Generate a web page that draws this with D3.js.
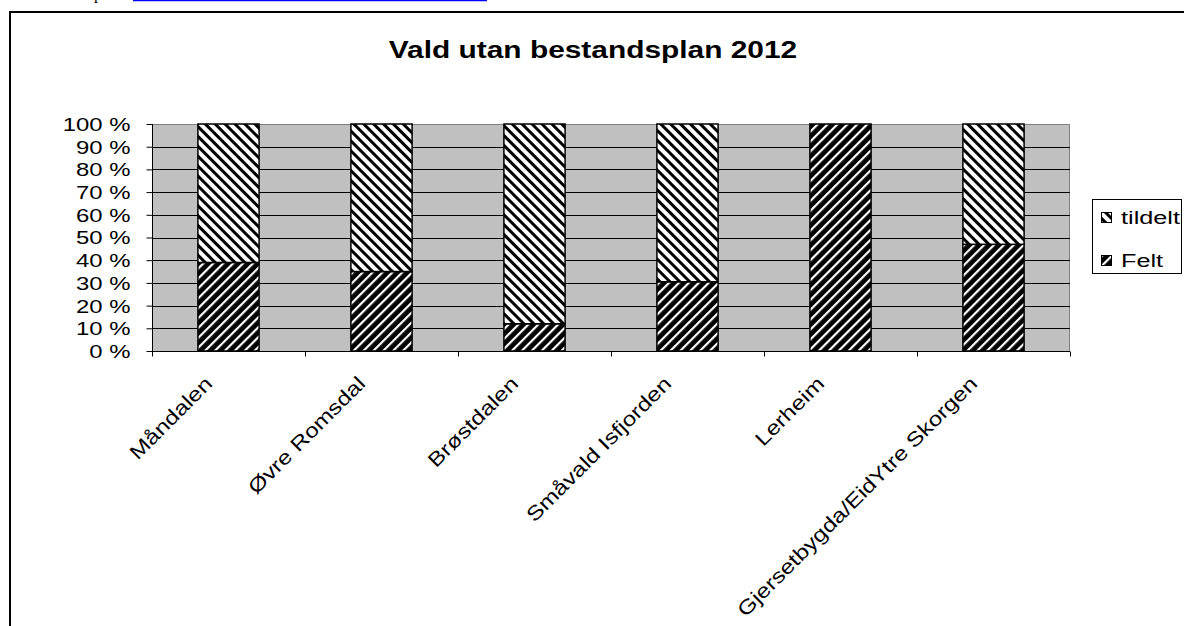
<!DOCTYPE html>
<html><head><meta charset="utf-8">
<script src="https://cdn.jsdelivr.net/npm/d3@7"></script>
<style>
body{margin:0;background:#fff;overflow:hidden;}
svg{display:block;font-family:"Liberation Sans",Arial,sans-serif;}
</style>
</head><body>
<svg id="c" width="1184" height="626"></svg>
<script>
// ---- data ----
const title = "Vald utan bestandsplan 2012";
const categories = ["Måndalen", "Øvre Romsdal", "Brøstdalen", "Småvald Isfjorden", "Lerheim", "Gjersetbygda/EidYtre Skorgen"];
const felt    = [39, 35, 12, 30.5, 100, 47];
const tildelt = [61, 65, 88, 69.5, 0, 53];
const seriesKeys = ["Felt", "tildelt"];
const legendOrder = ["tildelt", "Felt"];
const yTickValues = [0, 10, 20, 30, 40, 50, 60, 70, 80, 90, 100];

const rows = categories.map((c, i) => ({cat: c, Felt: felt[i], tildelt: tildelt[i]}));
const stacked = d3.stack().keys(seriesKeys).offset(d3.stackOffsetExpand)(rows);

const svg = d3.select("#c");
const SX = 1.33; // horizontal text stretch seen in reference

// patterns
const defs = svg.append("defs");
function stripePattern(id, angle, bg, fg, period, w) {
  const p = defs.append("pattern").attr("id", id)
    .attr("patternUnits", "userSpaceOnUse")
    .attr("width", period).attr("height", period)
    .attr("patternTransform", `rotate(${angle})`);
  p.append("rect").attr("width", period).attr("height", period).attr("fill", bg);
  p.append("rect").attr("x", 0).attr("y", 0).attr("width", w).attr("height", period).attr("fill", fg);
}
stripePattern("pat-tildelt", -45, "#fff", "#000", 7, 3);
stripePattern("pat-Felt", 45, "#000", "#fff", 7, 2.2);

// top fragments of page (cut text above the chart)
svg.append("text").attr("x", 94).attr("y", -1)
  .attr("font-family", "'Liberation Serif','Times New Roman',serif").attr("font-size", 16).text("p");
svg.append("line").attr("x1", 133).attr("x2", 487).attr("y1", 0.5).attr("y2", 0.5)
  .attr("stroke", "#0000ff").attr("stroke-width", 1.5);

// outer frame
svg.append("rect").attr("x", 10).attr("y", 12).attr("width", 1300).attr("height", 800)
  .attr("fill", "none").attr("stroke", "#000").attr("stroke-width", 2);

// title
svg.append("text").attr("transform", `translate(593,58) scale(1.22,1)`)
  .attr("text-anchor", "middle").attr("font-weight", "bold").attr("font-size", 24.5)
  .text(title);

// scales
const x = d3.scaleBand().domain(categories).range([152, 1070]).paddingInner(0.6).paddingOuter(0.3);
const y = d3.scaleLinear().domain([0, 1]).range([351, 124]);

// plot area
svg.append("rect").attr("x", 152).attr("y", 124).attr("width", 918).attr("height", 227)
  .attr("fill", "#c0c0c0");
svg.append("line").attr("x1", 1069.5).attr("x2", 1069.5).attr("y1", 124).attr("y2", 351)
  .attr("stroke", "#808080");

// gridlines
svg.append("g").selectAll("line").data(yTickValues.filter(v => v > 0)).join("line")
  .attr("x1", 152).attr("x2", 1070)
  .attr("y1", d => Math.round(y(d / 100)) + 0.5).attr("y2", d => Math.round(y(d / 100)) + 0.5)
  .attr("stroke", d => d === 100 ? "#808080" : "#000").attr("stroke-width", 1);

// bars
svg.append("g").selectAll("g").data(stacked).join("g")
  .attr("fill", d => `url(#pat-${d.key})`)
  .selectAll("rect").data(d => d.filter(s => s[1] - s[0] > 0)).join("rect")
  .attr("x", d => x(d.data.cat))
  .attr("width", x.bandwidth())
  .attr("y", d => y(d[1]))
  .attr("height", d => y(d[0]) - y(d[1]))
  .attr("stroke", "#000").attr("stroke-width", 1.5);

// y axis
const yAxis = svg.append("g").attr("transform", "translate(152.5,0)")
  .call(d3.axisLeft(y).tickValues(yTickValues.map(v => v / 100)).tickSize(6).tickSizeOuter(0)
    .tickFormat(d => Math.round(d * 100) + " %"));
yAxis.select(".domain").attr("stroke", "#000");
yAxis.selectAll(".tick line").attr("stroke", "#000");
yAxis.selectAll(".tick text").attr("x", 0).attr("dy", "0.36em")
  .attr("transform", `translate(-22,0) scale(${SX},1)`)
  .attr("font-size", 18).attr("fill", "#000").attr("font-family", "'Liberation Sans',Arial,sans-serif");
yAxis.select(".domain").attr("d", "M0,124V356");

// x axis
const xAxis = svg.append("g").attr("transform", "translate(0,351.5)")
  .call(d3.axisBottom(x).tickSize(0).tickFormat(""));
xAxis.select(".domain").attr("stroke", "#000").attr("d", "M152,0H1070");
const step = x.step();
const bounds = categories.map(c => x(c) + x.bandwidth() / 2 - step / 2)
  .concat([x(categories[categories.length - 1]) + x.bandwidth() / 2 + step / 2]);
xAxis.append("g").selectAll("line").data(bounds).join("line")
  .attr("x1", d => Math.round(d) + 0.5).attr("x2", d => Math.round(d) + 0.5)
  .attr("y1", 0).attr("y2", 5).attr("stroke", "#000");

// x labels
svg.append("g").selectAll("text").data(categories).join("text")
  .attr("transform", d => `translate(${x(d) + x.bandwidth() / 2 - 15},385) rotate(-45) scale(1.22,1)`)
  .attr("text-anchor", "end").attr("font-size", 20).attr("fill", "#000")
  .text(d => d);

// legend
const lg = svg.append("g");
lg.append("rect").attr("x", 1092.5).attr("y", 199.5).attr("width", 89).attr("height", 74)
  .attr("fill", "#fff").attr("stroke", "#000").attr("stroke-width", 1);
const legY = {tildelt: 212, Felt: 255};
legendOrder.forEach(k => {
  lg.append("rect").attr("x", 1101.5).attr("y", legY[k] + 0.5).attr("width", 10).attr("height", 10)
    .attr("fill", `url(#pat-${k})`).attr("stroke", "#000").attr("stroke-width", 1);
  lg.append("text").attr("transform", `translate(1121,${legY[k] + 12}) scale(${SX},1)`)
    .attr("font-size", 19).attr("fill", "#000").text(k);
});
</script>
</body></html>
